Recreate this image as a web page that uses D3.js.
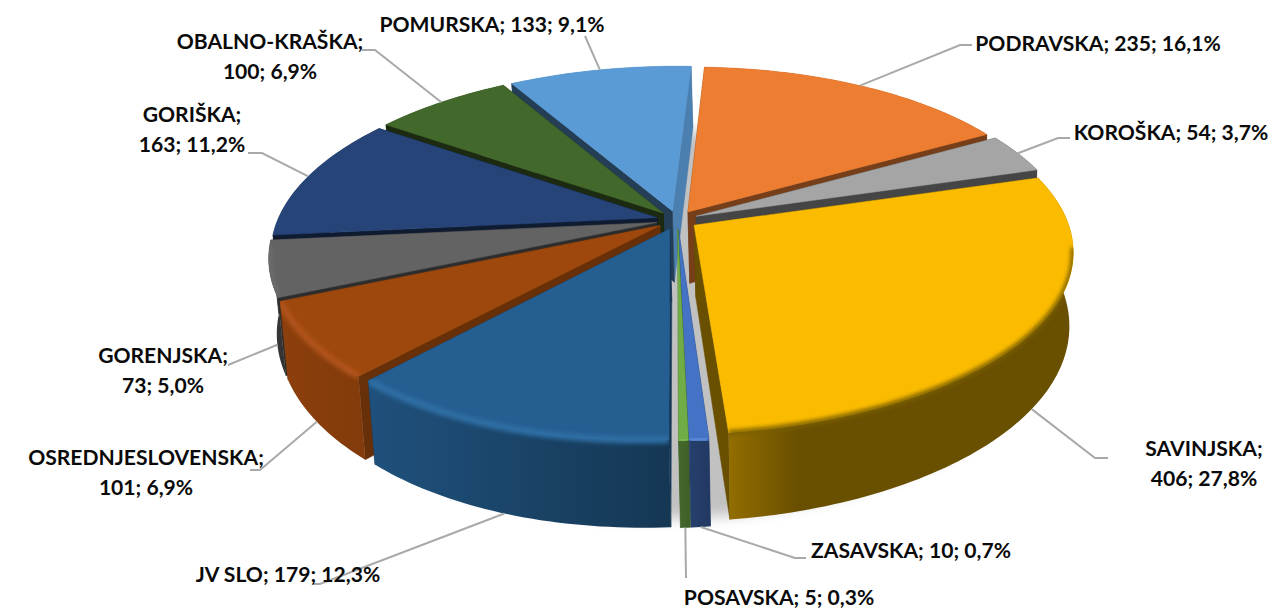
<!DOCTYPE html>
<html><head><meta charset="utf-8">
<script src="https://cdn.jsdelivr.net/npm/d3@7/dist/d3.min.js"></script>
<style>html,body{margin:0;background:#fff}svg{display:block}text{font-family:Lato,"Open Sans",sans-serif;font-weight:700;font-size:21.1px;fill:#0a0a0a}</style>
</head><body><svg id="c" width="1272" height="610"></svg>
<script>
const categories=["PODRAVSKA","KOROŠKA","SAVINJSKA","ZASAVSKA","POSAVSKA","JV SLO","OSREDNJESLOVENSKA","GORENJSKA","GORIŠKA","OBALNO-KRAŠKA","POMURSKA"];
const values=[235,54,406,10,5,179,101,73,163,100,133];
const colors=["#ed7d31","#a5a5a5","#fbbc00","#4472c4","#70ad47","#255e91","#9e480e","#636363","#264478","#43682b","#5b9bd5"];
// wall shade multipliers (lit side, shaded side), cut-face shades (start, end), rim tone
const wallLit=[.6,.42,.58,.55,.6,.85,.88,.55,.6,.6,.82];
const wallDark=[.5,.42,.42,.5,.55,.58,.82,.5,.5,.5,.82];
const faceStart=[.5,.42,.42,.5,.55,.6,.66,.45,.4,.4,.4];
const faceEnd=[.5,.42,.42,.5,.55,.6,.66,.45,.4,.4,.82];
const rimTone=["#f08a45","#b0b0b0","#7a5e00","#5a88d8","#80bb55","#2f6ea4","#b0531a","#6c6c6c","#2d5088","#4f7833","#69a6dc"];
// label layout and leader elbows
const labelBreak=[false,false,true,false,false,false,true,true,true,true,false];
const labelPos=[[1098,51],[1171,140],[1204,456],[911,558],[779,605],[288,582],[146,465],[163,363],[192,122],[270,49],[492,32]];
const elbows=[[[960,45],[972,45]],[[1058,138],[1070,138]],[[1095,458],[1108,458]],[[795,558],[806,558]],[[686,578]],[[320,584],[313,584]],[[260,470],[250,470]],[[228,365]],[[262,153],[248,153]],[[375,50],[362,50]],[[585,36]]];

const cx=677,cy=220,RX=376,RY=172,k=.169,kx=.008,shear=-.022,frontPull=.021,Z=72,expl=.055,rot=2*Math.PI/180,lineH=30;
const svg=d3.select("#c"),defs=svg.append("defs");
const blur=(id,s)=>defs.append("filter").attr("id",id).attr("x","-20%").attr("y","-20%").attr("width","140%").attr("height","140%").append("feGaussianBlur").attr("stdDeviation",s);
blur("sh",7);blur("rb",2);
const mult=(c,m)=>{const r=d3.rgb(c);return d3.rgb(r.r*m,r.g*m,r.b*m).formatHex()};
const pie=d3.pie().sort(null).startAngle(rot).endAngle(rot+2*Math.PI)(values);
const line=d3.line();
function proj(X,Y,z){const w=1-k*Y+kx*X;const pull=Y>0?frontPull*Y*Y*Y*Y:0;const sx=cx+RX*(X+shear*Y-pull)/w,sy=cy+RY*Y/w;
 return z?[cx+(sx-cx)*.985+2,sy+Z/w]:[sx,sy];}
const total=d3.sum(values);
const slices=pie.map((p,i)=>{
 const mid=(p.startAngle+p.endAngle)/2,ox=Math.sin(mid)*expl,oy=-Math.cos(mid)*expl;
 const n=Math.max(4,Math.ceil((p.endAngle-p.startAngle)/.02));
 const rim=d3.range(n+1).map(j=>{const a=p.startAngle+(p.endAngle-p.startAngle)*j/n;return [ox+Math.sin(a),oy-Math.cos(a)]});
 return {i,mid,ox,oy,rim,depth:oy/expl};
});
const g=svg.append("g");
g.append("path").attr("d",line(d3.range(121).map(j=>{const a=j/120*2*Math.PI;return proj(Math.sin(a)*1.02,-Math.cos(a)*1.02,1)}))+"Z").attr("fill","#000").attr("opacity",.24).attr("filter","url(#sh)");
const ll=svg.append("g").attr("fill","none").attr("stroke","#a9a9a9").attr("stroke-width",2);
slices.slice().sort((a,b)=>a.depth-b.depth).forEach(s=>{
 const i=s.i,c=colors[i],gs=g.append("g");
 const a=[s.ox,s.oy],f=s.rim[0],l=s.rim[s.rim.length-1];
 const face=(p,m)=>gs.append("path").attr("d",line([proj(a[0],a[1]),proj(p[0],p[1]),proj(p[0],p[1],1),proj(a[0],a[1],1)])+"Z").attr("fill",mult(c,m)).attr("stroke",mult(c,m)).attr("stroke-width",.5);
 const top=s.rim.map(p=>proj(p[0],p[1])),bot=s.rim.map(p=>proj(p[0],p[1],1)).reverse();
 const apexTop=proj(a[0],a[1]);
 const outer=()=>{
  const x0=d3.min(bot,d=>d[0]),x1=d3.max(bot,d=>d[0]);
  const gid="w"+i,gr=defs.append("linearGradient").attr("id",gid).attr("gradientUnits","userSpaceOnUse").attr("x1",x0).attr("x2",x1).attr("y1",0).attr("y2",0);
  gr.append("stop").attr("offset",0).attr("stop-color",mult(c,wallLit[i]));
  gr.append("stop").attr("offset",i===2?.2:1).attr("stop-color",mult(c,wallDark[i]));
  gs.append("path").attr("d",line(top.concat(bot))+"Z").attr("fill",`url(#${gid})`);
 };
 if(s.depth<.2) outer();
 const faces=[[f,faceStart[i]],[l,faceEnd[i]]].sort((u,v)=>u[0][1]-v[0][1]);
 face(...faces[0]);face(...faces[1]);
 if(s.depth>=.2) outer();
 gs.append("path").attr("d",line([apexTop].concat(top))+"Z").attr("fill",c).attr("stroke",c).attr("stroke-width",.5);
 const rp=s.rim.filter(p=>p[1]>.14).map(p=>proj(p[0],p[1]));
 if(rp.length>1){
  const cid="rc"+i;
  defs.append("clipPath").attr("id",cid).append("path").attr("d",line([apexTop].concat(top))+"Z"+line(top.concat(bot))+"Z");
  gs.append("g").attr("clip-path",`url(#${cid})`).append("path").attr("d",line(rp)).attr("fill","none").attr("stroke",rimTone[i]).attr("stroke-width",i===2?5:7).attr("filter","url(#rb)");
 }
 const mx=s.ox+Math.sin(s.mid),my=s.oy-Math.cos(s.mid);
 const st=proj(mx,my,my>0.1?1:0);
 ll.append("path").attr("d",line([st].concat(elbows[i])));
});
ll.raise();
const pct=v=>d3.format(".1f")(v/total*100).replace(".",",");
categories.forEach((n,i)=>{
 const [x,y]=labelPos[i],t=svg.append("text").attr("text-anchor","middle").attr("x",x).attr("y",y);
 if(labelBreak[i]){t.append("tspan").attr("x",x).text(n+";");t.append("tspan").attr("x",x).attr("dy",lineH).text(values[i]+"; "+pct(values[i])+"%");}
 else t.text(n+"; "+values[i]+"; "+pct(values[i])+"%");
});
</script></body></html>
